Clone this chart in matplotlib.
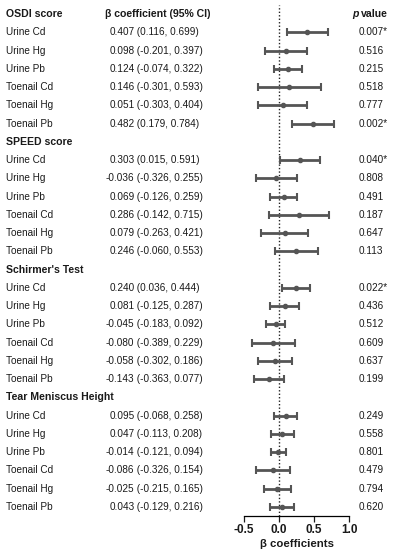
import matplotlib
matplotlib.use("Agg")
import matplotlib.pyplot as plt
import matplotlib.transforms as mtransforms

plt.rcParams['font.family'] = ['Liberation Sans', 'DejaVu Sans']

groups = ["OSDI score", "SPEED score", "Schirmer's Test", "Tear Meniscus Height"]
exposures = ["Urine Cd", "Urine Hg", "Urine Pb", "Toenail Cd", "Toenail Hg", "Toenail Pb"]

beta = [
    [0.407, 0.098, 0.124, 0.146, 0.051, 0.482],
    [0.303, -0.036, 0.069, 0.286, 0.079, 0.246],
    [0.240, 0.081, -0.045, -0.080, -0.058, -0.143],
    [0.095, 0.047, -0.014, -0.086, -0.025, 0.043],
]
ci_low = [
    [0.116, -0.201, -0.074, -0.301, -0.303, 0.179],
    [0.015, -0.326, -0.126, -0.142, -0.263, -0.060],
    [0.036, -0.125, -0.183, -0.389, -0.302, -0.363],
    [-0.068, -0.113, -0.121, -0.326, -0.215, -0.129],
]
ci_high = [
    [0.699, 0.397, 0.322, 0.593, 0.404, 0.784],
    [0.591, 0.255, 0.259, 0.715, 0.421, 0.553],
    [0.444, 0.287, 0.092, 0.229, 0.186, 0.077],
    [0.258, 0.208, 0.094, 0.154, 0.165, 0.216],
]
p_values = [
    ["0.007*", "0.516", "0.215", "0.518", "0.777", "0.002*"],
    ["0.040*", "0.808", "0.491", "0.187", "0.647", "0.113"],
    ["0.022*", "0.436", "0.512", "0.609", "0.637", "0.199"],
    ["0.249", "0.558", "0.801", "0.479", "0.794", "0.620"],
]
xticks = [-0.5, 0.0, 0.5, 1.0]

W, H = 396, 550
fig = plt.figure(figsize=(W / 100, H / 100), dpi=100)
ax = fig.add_axes([244 / W, (H - 516) / H, 105 / W, 511 / H])
ax.set_xlim(-0.5, 1.0)
ax.set_ylim(-27.5, 0.5)

trans = mtransforms.blended_transform_factory(fig.transFigure, ax.transData)
txt_color = '#1a1a1a'
bar_color = '#555555'
fs = 7.2

slot = 0
for g, gname in enumerate(groups):
    y = -slot
    ax.text(6 / W, y, gname, transform=trans, ha='left', va='center',
            fontsize=7.6, fontweight='bold', color=txt_color, clip_on=False)
    if g == 0:
        ax.text(105 / W, y, "β coefficient (95% CI)", transform=trans, ha='left',
                va='center', fontsize=7.6, fontweight='bold', color=txt_color, clip_on=False)
        ax.text(352 / W, y, "p", transform=trans, ha='left', va='center',
                fontsize=7.6, fontweight='bold', style='italic', color=txt_color, clip_on=False)
        ax.text(361 / W, y, "value", transform=trans, ha='left', va='center',
                fontsize=7.6, fontweight='bold', color=txt_color, clip_on=False)
    slot += 1
    for i, ename in enumerate(exposures):
        y = -slot
        b, lo, hi = beta[g][i], ci_low[g][i], ci_high[g][i]
        ax.text(6 / W, y, ename, transform=trans, ha='left', va='center',
                fontsize=fs, color=txt_color, clip_on=False)
        ax.text(134.5 / W, y, f"{b:.3f}", transform=trans, ha='right', va='center',
                fontsize=fs, color=txt_color, clip_on=False)
        ax.text(134.5 / W, y, f" ({lo:.3f}, {hi:.3f})", transform=trans, ha='left',
                va='center', fontsize=fs, color=txt_color, clip_on=False)
        ax.text(359 / W, y, p_values[g][i], transform=trans, ha='left', va='center',
                fontsize=fs, color=txt_color, clip_on=False)
        ax.errorbar([b], [y], xerr=[[b - lo], [hi - b]], fmt='o', color=bar_color,
                    ecolor=bar_color, elinewidth=2.0, capsize=2.8, capthick=1.5,
                    markersize=3.0, clip_on=False)
        slot += 1

ax.axvline(0, color='#222222', linestyle=(0, (1, 1.5)), linewidth=1.0, zorder=0)

for s in ['top', 'right', 'left']:
    ax.spines[s].set_visible(False)
ax.spines['bottom'].set_bounds(-0.5, 1.0)
ax.spines['bottom'].set_linewidth(0.9)
ax.set_yticks([])
ax.set_xticks(xticks)
ax.set_xticklabels(["-0.5", "0.0", "0.5", "1.0"], fontweight='bold', fontsize=8.5)
ax.tick_params(axis='x', length=4, width=0.9, pad=2, colors=txt_color)
ax.set_xlabel("β coefficients", fontweight='bold', fontsize=8.2, labelpad=2, color=txt_color)
ax.patch.set_alpha(0)

fig.savefig("out.png", dpi=100)
